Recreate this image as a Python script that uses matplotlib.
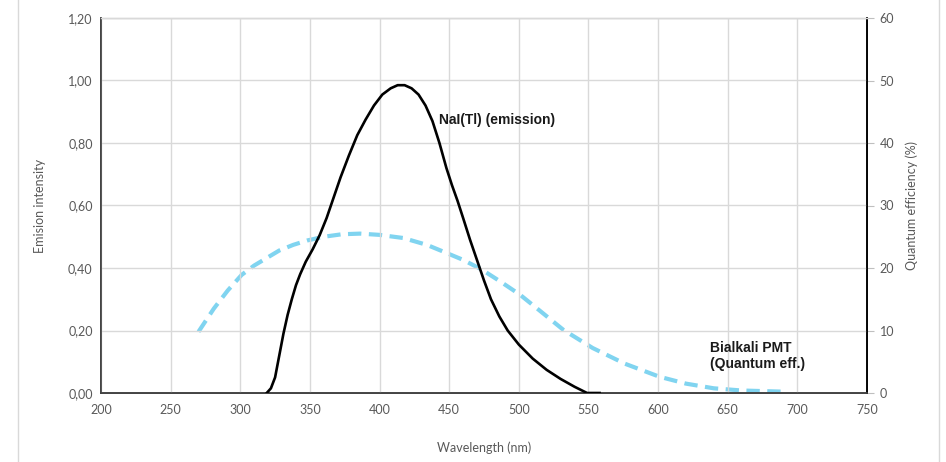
import matplotlib
matplotlib.use("Agg")
import matplotlib.pyplot as plt
from matplotlib.lines import Line2D
from matplotlib.ticker import FuncFormatter, MultipleLocator

# NaI(Tl) emission (relative intensity)
nai_wl = [319, 322, 325, 328, 331, 334, 337, 340, 343, 347, 352, 357, 362, 367, 372, 378, 384, 390, 396,
          402, 408, 413, 418, 423, 428, 433, 438, 443, 448, 452, 456, 460, 465, 470, 475, 480, 486, 492,
          500, 510, 520, 530, 540, 549, 558]
nai_val = [0.0, 0.015, 0.05, 0.12, 0.19, 0.25, 0.30, 0.345, 0.38, 0.42, 0.46, 0.505, 0.56, 0.625, 0.69, 0.76,
           0.825, 0.875, 0.92, 0.955, 0.975, 0.985, 0.985, 0.975, 0.955, 0.92, 0.87, 0.80, 0.72, 0.665, 0.615,
           0.56, 0.49, 0.425, 0.36, 0.30, 0.245, 0.20, 0.155, 0.11, 0.074, 0.045, 0.02, 0.0, 0.0]

# Bialkali PMT quantum efficiency (%)
pmt_wl = [270, 281, 291, 301, 310, 319, 328, 338, 348, 360, 373, 386, 400, 417, 434, 446, 460, 473, 487,
          501, 516, 532, 553, 576, 601, 620, 640, 660, 692]
pmt_qe = [9.8, 13.5, 16.4, 18.9, 20.4, 21.6, 22.8, 23.7, 24.4, 25.0, 25.4, 25.5, 25.3, 24.8, 23.7, 22.6,
          21.3, 19.8, 17.8, 15.7, 13.0, 10.1, 7.2, 4.7, 2.6, 1.5, 0.75, 0.4, 0.2]

x_ticks = list(range(200, 751, 50))

plt.rcParams['font.family'] = ['Lato', 'DejaVu Sans']
gray = '#595959'

fig = plt.figure(figsize=(9.46, 4.62), dpi=100)
ax = fig.add_axes([101/946, 1 - 393/462, (867-101)/946, (393-18)/462])
ax2 = ax.twinx()

ax.set_xlim(200, 750)
ax.set_ylim(0, 1.2)
ax2.set_ylim(0, 60)
ax.set_xticks(x_ticks)
ax.yaxis.set_major_locator(MultipleLocator(0.2))
ax2.yaxis.set_major_locator(MultipleLocator(10))
ax.yaxis.set_major_formatter(FuncFormatter(lambda v, p: f"{v:.2f}".replace('.', ',')))

ax.grid(True, color='#d9d9d9', linewidth=1.0)
ax.set_axisbelow(True)

for a in (ax, ax2):
    a.spines['top'].set_color('#d9d9d9')
    a.spines['left'].set_color('#404040')
    a.spines['right'].set_color('#000000')
    a.spines['bottom'].set_color('#404040')
    for s in a.spines.values():
        s.set_linewidth(1.2)
    a.spines['top'].set_linewidth(1.0)

ax.tick_params(axis='both', length=0, labelsize=9, labelcolor=gray, pad=6)
ax.tick_params(axis='x', pad=8)
ax2.tick_params(axis='y', length=5, color='#bfbfbf', labelsize=9, labelcolor=gray, pad=4)

ax2.plot(pmt_wl, pmt_qe, color='#80d4f0', linewidth=3.0, linestyle=(0, (3.2, 1.8)), zorder=2)
ax.plot(nai_wl, nai_val, color='black', linewidth=1.9, zorder=3, solid_joinstyle='round')
ax.set_zorder(ax2.get_zorder() + 1)
ax.patch.set_visible(False)

ax.set_ylabel('Emision intensity', fontsize=9, color=gray, labelpad=16)
ax2.set_ylabel('Quantum efficiency (%)', fontsize=9, color=gray, labelpad=8)
ax.set_xlabel('Wavelength (nm)', fontsize=9, color=gray, labelpad=18)

ax.text(443, 0.874, 'NaI(Tl) (emission)', fontsize=10, fontweight='bold',
        family='Liberation Sans', va='center', ha='left', color='#1a1a1a')
ax.text(637, 0.118, 'Bialkali PMT\n(Quantum eff.)', fontsize=10, fontweight='bold',
        family='Liberation Sans', va='center', ha='left', color='#1a1a1a', linespacing=1.15)

fig.add_artist(Line2D([18/946, 18/946], [0, 1], color='#d9d9d9', linewidth=1.0))
fig.add_artist(Line2D([939/946, 939/946], [0, 1], color='#d9d9d9', linewidth=1.0))

fig.savefig('out.png', dpi=100)
